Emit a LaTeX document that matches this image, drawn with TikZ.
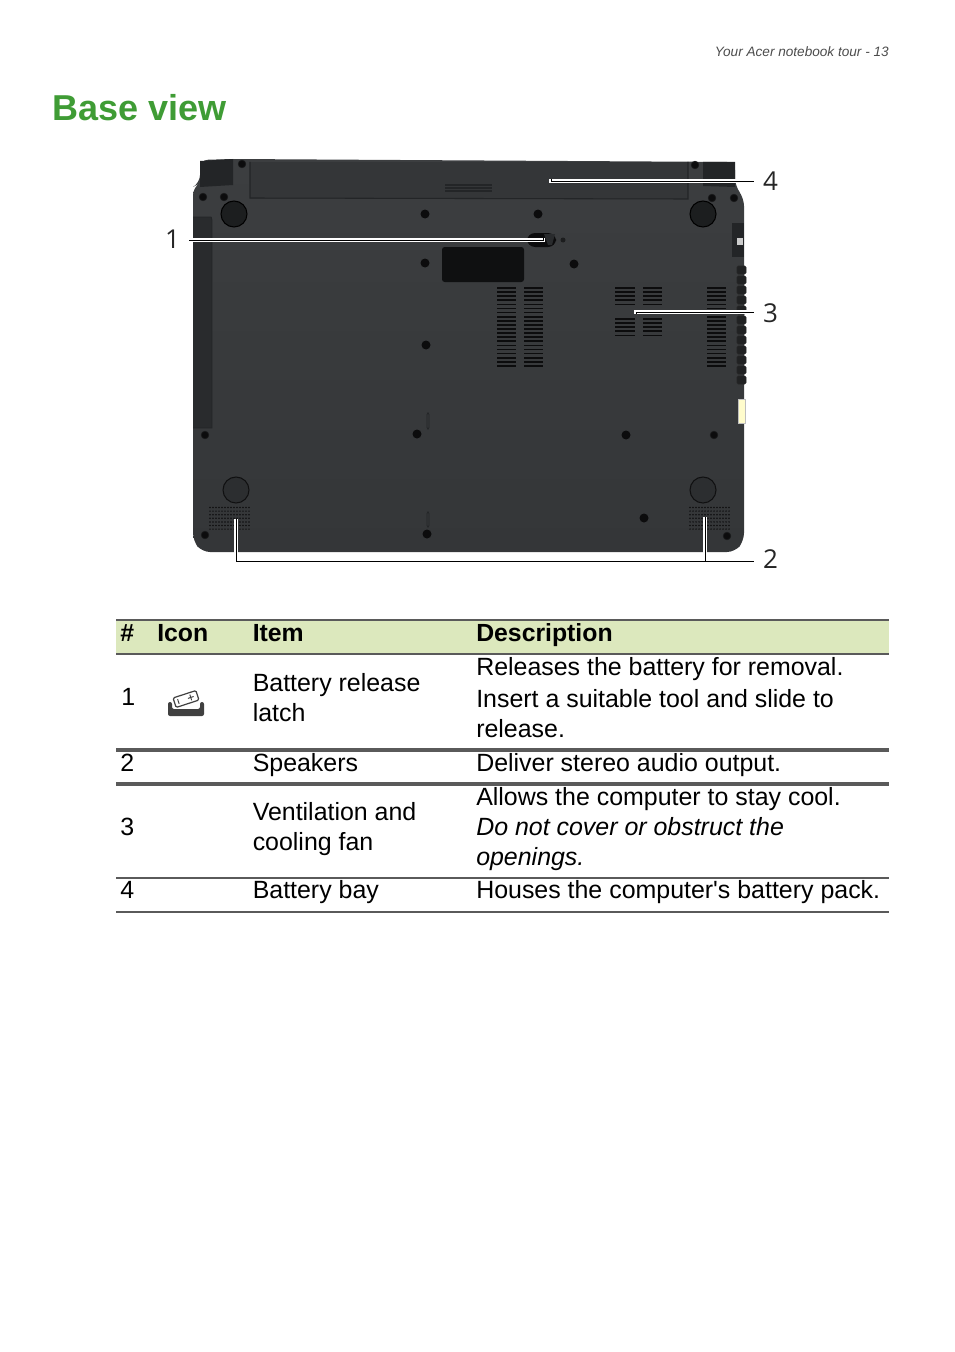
\documentclass[tikz,border=0pt]{standalone}
\usepackage{fontspec}
\setmainfont[Ligatures=TeXOff]{Liberation Sans}
\newfontfamily\calloutfont{Open Sans}
\usepackage{xcolor}
\usetikzlibrary{positioning}
\definecolor{basetop}{HTML}{3C3E40}
\definecolor{basebot}{HTML}{343638}
\definecolor{basegray}{HTML}{37393B}
\definecolor{bayGray}{HTML}{343638}
\definecolor{edgeGray}{HTML}{232527}
\definecolor{holeBlack}{HTML}{0C0C0D}
\definecolor{titleGreen}{HTML}{3F9C35}
\definecolor{headGreen}{HTML}{DCE8BD}
\definecolor{ruleGray}{HTML}{5A5A5A}
\tikzset{
	cell/.style={anchor=base west,inner sep=0pt,align=left,font=\fontsize{18.7}{22.2}\selectfont},
	headcell/.style={cell,font=\fontsize{18.6}{22.2}\selectfont\bfseries},
	callout/.style={inner sep=6.75pt,font=\calloutfont\fontsize{19.5}{22}\selectfont,text=black!85},
	leader/.style={draw=black,line width=0.7pt,preaction={draw=white,line width=2.4pt}},
	hole/.style={fill=holeBlack},
	screw/.style={fill=holeBlack,draw=black!55!basegray,line width=0.5pt},
	foot/.style={fill=edgeGray,draw=black!70!basebot,line width=0.8pt},
	slat/.style={draw=holeBlack,line width=1.3pt},
	slot/.style={draw=edgeGray,line width=0.5pt,rounded corners=1pt}
}
\begin{document}
\begin{tikzpicture}[x=0.75pt,y=-0.75pt]
		\useasboundingbox (0,0) rectangle (954,1352);
		% page head
		\node[anchor=base east,inner sep=0pt,text=black!70,font=\fontsize{10.2}{12}\selectfont\itshape] (pagehead) at (889,56.5) {Your Acer notebook tour - 13};
		\node[anchor=base west,inner sep=0pt,text=titleGreen,font=\fontsize{27}{32}\selectfont\bfseries] (title) at (52,121) {Base view};

		% base of the notebook
		\shade[top color=basetop,bottom color=basebot,rounded corners=6pt] (193,205) -- (193,187) -- (200,183) -- (200,160) -- (233,159) -- (735,162) -- (735,186) -- (744,198) -- (744,541) -- (735,552) -- (202,552) -- (193,541) -- cycle;
		\fill[edgeGray] (200,161) -- (233,159) -- (233,185) -- (200,187) -- cycle;
		\fill[edgeGray] (703,162) -- (735,162) -- (735,187) -- (703,186) -- cycle;
		\fill[bayGray] (250,162) rectangle (688,199);
		\draw[edgeGray,line width=0.8pt] (250,162) -- (250,198) -- (688,199) -- (688,162);
		\foreach \y in {185,188,191} \draw[edgeGray,line width=0.8pt] (445,\y) -- (492,\y);
		% drive strip on the left
		\fill[edgeGray!70!basegray] (193,217) rectangle (212,428);
		\draw[edgeGray,line width=0.6pt] (193,217) -- (211,217) -- (212,220) -- (212,428) -- (193,428);

		% side ports
		\fill[edgeGray] (732,223) rectangle (744,257);
		\fill[black!20] (737,238) rectangle (743,245);
		\foreach \y in {266,276,...,376} \fill[black!40!basegray,rounded corners=1pt,draw=black!85,line width=0.4pt] (737,\y) rectangle (746,\y+8);
		\fill[yellow!20!white,draw=black!25] (738,399) rectangle (745,423);

		% feet, holes, screws
		\foreach \x/\y in {234/214,703/214} \draw[foot,fill=edgeGray!80!black,draw=black] (\x,\y) circle[radius=13];
		\foreach \x/\y in {236/490,703/490} \draw[foot,fill=basebot!85!black] (\x,\y) circle[radius=13];
		\foreach \x/\y in {425/214,538/214,425/263,574/264,426/345,417/434,427/534,626/435,644/518} \fill[hole] (\x,\y) circle[radius=4.5];
		\foreach \x/\y in {203/197,224/197,242/164,712/198,734/198,695/165,205/435,205/535,714/435,727/536} \draw[screw] (\x,\y) circle[radius=3.8];
		\draw[slot] (427,413) rectangle (429,429);
		\draw[slot] (427,512) rectangle (429,527);

		% plate and latch
		\fill[black!72!basegray,rounded corners=2pt] (442,247) rectangle (524,282);
		\fill[holeBlack,rounded corners=6pt] (527,233) rectangle (556,247);
		\fill[edgeGray!70!basegray] (544,234) -- (555,234) -- (552,245) -- (548,245) -- cycle;
		\fill[black!50!basegray] (563,240) circle[radius=2.5];

		% vents
		\foreach \xa/\xb in {497/516,524/543,707/726}
			\foreach \y in {288,292.1,...,368} \draw[slat] (\xa,\y) -- (\xb,\y);
		\foreach \xa/\xb in {615/635,643/662} {
			\foreach \y in {288,292.1,...,307} \draw[slat] (\xa,\y) -- (\xb,\y);
			\foreach \y in {319,323.1,...,338} \draw[slat] (\xa,\y) -- (\xb,\y);
		}

		% speaker grilles
		\foreach \xa in {210,690}
			\foreach \i in {0,...,13}
				\foreach \j in {0,...,6}
					\fill[black!75!basegray] (\xa+\i*3,507.5+\j*3.6) circle[radius=0.85];

		% callouts
		\node[callout] (lab_1) at (172.5,239) {1};
		\node[callout] (lab_2) at (770.5,559) {2};
		\node[callout] (lab_3) at (770.5,313) {3};
		\node[callout] (lab_4) at (770.5,181) {4};
		\coordinate (end_1) at (543,238);
		\coordinate (end_2a) at (236,519);
		\coordinate (end_2b) at (705,517);
		\coordinate (end_3) at (636,314);
		\coordinate (end_4) at (551,179);
		\draw[leader] (lab_1.east |- 0,240) -- (end_1 |- 0,240) -- (end_1);
		\draw[leader] (lab_4.west |- 0,181) -- (end_4 |- 0,181) -- (end_4);
		\draw[leader] (lab_3.west |- 0,312) -- (end_3 |- 0,312) -- (end_3);
		\draw[leader] (end_2a) -- (end_2a |- 0,561) -- (lab_2.west |- 0,561);
		\draw[leader] (end_2b) -- (end_2b |- 0,561);

		% table
		\fill[headGreen] (116,620) rectangle (889,654);
		\foreach \y/\w in {620/1.8pt,654/1.6pt,750/2.6pt,784/2.6pt,878/1.4pt,912/1.4pt}
			\draw[ruleGray,line width=\w] (116,\y) -- (889,\y);
		\node[headcell] (head_num) at (120,641) {\#};
		\node[headcell] (head_icon) at (157,641) {Icon};
		\node[headcell] (head_item) at (252.5,641) {Item};
		\node[headcell] (head_desc) at (476,641) {Description};

		\node[cell] (num_1) at (121,705.5) {1};
		\node[cell] (item_1) at (252.5,721) {Battery release\\latch};
		\node[cell] (desc_1) at (476,737) {Releases the battery for removal.\\[1.5pt]Insert a suitable tool and slide to\\release.};
		\node[cell] (num_2) at (120,771) {2};
		\node[cell] (item_2) at (252.5,771) {Speakers};
		\node[cell] (desc_2) at (476,771) {Deliver stereo audio output.};
		\node[cell] (num_3) at (120,835) {3};
		\node[cell] (item_3) at (252.5,850) {Ventilation and\\cooling fan};
		\node[cell] (desc_3) at (476,865) {Allows the computer to stay cool.\\\textit{Do not cover or obstruct the}\\\textit{openings.}};
		\node[cell] (num_4) at (120,898) {4};
		\node[cell] (item_4) at (252.5,898) {Battery bay};
		\node[cell] (desc_4) at (476,898) {Houses the computer's battery pack.};

		% icon of row 1
		\fill[black!75,rounded corners=1.5pt] (168,702) -- (172,702) -- (172,709) -- (200,709) -- (200,702) -- (204,702) -- (204,716) -- (168,716) -- cycle;
		\begin{scope}[rotate around={18:(186,699)}]
			\draw[black!75,fill=white,line width=0.9pt,rounded corners=1pt] (174,694) rectangle (198,704);
			\draw[black!75,line width=0.7pt] (178,696.5) -- (178,701.5) (188,699) -- (194,699) (191,696) -- (191,702);
		\end{scope}
\end{tikzpicture}
\end{document}
